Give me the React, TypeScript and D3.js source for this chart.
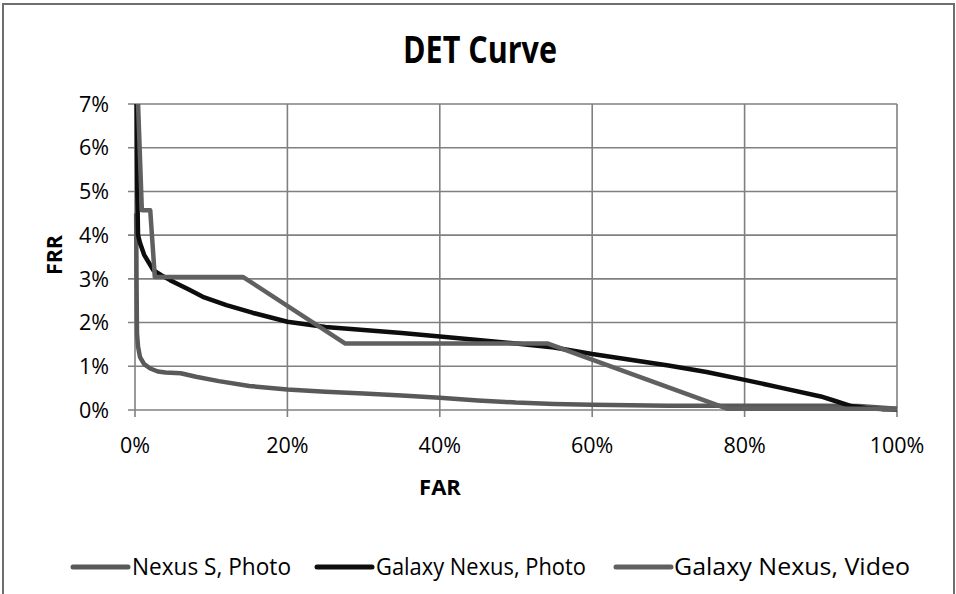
import React from "react";
import * as d3 from "d3";

const W = 956;
const H = 594;

const xTicks = [0, 0.2, 0.4, 0.6, 0.8, 1.0];
const yTicks = [0, 0.01, 0.02, 0.03, 0.04, 0.05, 0.06, 0.07];

const nexusSFar = [0.0015, 0.002, 0.0026, 0.004, 0.0066, 0.012, 0.02, 0.03, 0.04, 0.06, 0.08, 0.11, 0.15, 0.2, 0.25, 0.3, 0.35, 0.4, 0.45, 0.5, 0.55, 0.6, 0.7, 0.8, 0.9, 0.95, 1.0];
const nexusSFrr = [0.045, 0.03, 0.0176, 0.0145, 0.0121, 0.0105, 0.0095, 0.0088, 0.0086, 0.0084, 0.0076, 0.0066, 0.0055, 0.0047, 0.0042, 0.0038, 0.0033, 0.0028, 0.0022, 0.0017, 0.0014, 0.0012, 0.001, 0.001, 0.001, 0.0009, 0.0003];

const galaxyPhotoFar = [0.002, 0.003, 0.004, 0.0066, 0.012, 0.024, 0.035, 0.046, 0.07, 0.089, 0.12, 0.155, 0.2, 0.25, 0.3, 0.35, 0.4, 0.45, 0.5, 0.55, 0.6, 0.65, 0.7, 0.75, 0.8, 0.85, 0.9, 0.92, 0.94, 0.96, 0.98, 1.0];
const galaxyPhotoFrr = [0.075, 0.05, 0.04, 0.0382, 0.0355, 0.032, 0.0308, 0.0297, 0.0276, 0.0259, 0.024, 0.0222, 0.0202, 0.019, 0.0183, 0.0176, 0.0168, 0.016, 0.0152, 0.0143, 0.0128, 0.0115, 0.0102, 0.0087, 0.0069, 0.005, 0.0031, 0.002, 0.0009, 0.0004, 0.0002, 0.0001];

const galaxyVideoFar = [0.003, 0.009, 0.02, 0.026, 0.142, 0.276, 0.542, 0.777, 1.0];
const galaxyVideoFrr = [0.075, 0.0457, 0.0457, 0.0304, 0.0304, 0.0152, 0.0152, 0.0003, 0.0003];

const seriesNames = ["Nexus S, Photo", "Galaxy Nexus, Photo", "Galaxy Nexus, Video"];
const seriesColors = ["#595959", "#0d0d0d", "#606060"];

const FONT = "'Open Sans', 'Noto Sans', sans-serif";

export default function App() {
  const plot = { left: 135, right: 897, top: 104, bottom: 410 };
  const x = d3.scaleLinear().domain([0, 1]).range([plot.left, plot.right]);
  const y = d3.scaleLinear().domain([0, 0.07]).range([plot.bottom, plot.top]);

  const series = [
    { far: nexusSFar, frr: nexusSFrr },
    { far: galaxyPhotoFar, frr: galaxyPhotoFrr },
    { far: galaxyVideoFar, frr: galaxyVideoFrr },
  ];

  const line = d3
    .line<[number, number]>()
    .x((d) => x(d[0]))
    .y((d) => y(d[1]));

  const gridColor = "#808080";
  const pct = d3.format(".0%");

  const legendItems = [
    { lx1: 73, lx2: 128, tx: 132, tl: 159 },
    { lx1: 317, lx2: 372, tx: 376, tl: 210 },
    { lx1: 616, lx2: 671, tx: 674, tl: 236 },
  ];
  const legendY = 567;

  return (
    <svg
      width={W}
      height={H}
      style={{ position: "absolute", left: 0, top: 0, background: "#fff" }}
      fontFamily={FONT}
    >
      <rect x={0} y={0} width={W} height={H} fill="#fff" />
      <rect x={3} y={4} width={951} height={596} fill="none" stroke="#6e6e6e" strokeWidth={2} />

      <text
        x={480}
        y={63}
        textAnchor="middle"
        fontWeight="bold"
        fontSize={37}
        textLength={154}
        lengthAdjust="spacingAndGlyphs"
        fill="#000"
      >
        DET Curve
      </text>

      <defs>
        <clipPath id="plotClip">
          <rect x={plot.left - 5} y={plot.top} width={plot.right - plot.left + 10} height={plot.bottom - plot.top + 5} />
        </clipPath>
      </defs>

      {yTicks.map((t) => (
        <line
          key={"hy" + t}
          x1={plot.left - 7}
          x2={plot.right}
          y1={y(t)}
          y2={y(t)}
          stroke={gridColor}
          strokeWidth={1.6}
        />
      ))}
      {xTicks.map((t) => (
        <line
          key={"vx" + t}
          x1={x(t)}
          x2={x(t)}
          y1={plot.top}
          y2={plot.bottom + 7}
          stroke={gridColor}
          strokeWidth={1.6}
        />
      ))}

      {yTicks.map((t) => (
        <text
          key={"ly" + t}
          x={109}
          y={y(t)}
          dy="0.36em"
          textAnchor="end"
          fontSize={21.5}
          fill="#000"
        >
          {pct(t)}
        </text>
      ))}
      {xTicks.map((t) => (
        <text key={"lx" + t} x={x(t)} y={453} textAnchor="middle" fontSize={21.5} fill="#000">
          {pct(t)}
        </text>
      ))}

      <text x={440} y={495} textAnchor="middle" fontWeight="bold" fontSize={22} fill="#000">
        FAR
      </text>
      <text
        transform={`translate(62,255) rotate(-90)`}
        textAnchor="middle"
        fontWeight="bold"
        fontSize={22}
        textLength={40}
        lengthAdjust="spacingAndGlyphs"
        fill="#000"
      >
        FRR
      </text>

      <g clipPath="url(#plotClip)">
        {series.map((s, i) => (
          <path
            key={"s" + i}
            d={line(s.far.map((f, j) => [f, s.frr[j]] as [number, number])) || ""}
            fill="none"
            stroke={seriesColors[i]}
            strokeWidth={4.5}
            strokeLinejoin="round"
          />
        ))}
      </g>

      {legendItems.map((it, i) => (
        <g key={"lg" + i}>
          <line
            x1={it.lx1}
            x2={it.lx2}
            y1={legendY}
            y2={legendY}
            stroke={seriesColors[i]}
            strokeWidth={5}
            strokeLinecap="round"
          />
          <text
            x={it.tx}
            y={legendY}
            dy="0.36em"
            fontSize={23}
            textLength={it.tl}
            lengthAdjust="spacingAndGlyphs"
            fill="#000"
          >
            {seriesNames[i]}
          </text>
        </g>
      ))}
    </svg>
  );
}
